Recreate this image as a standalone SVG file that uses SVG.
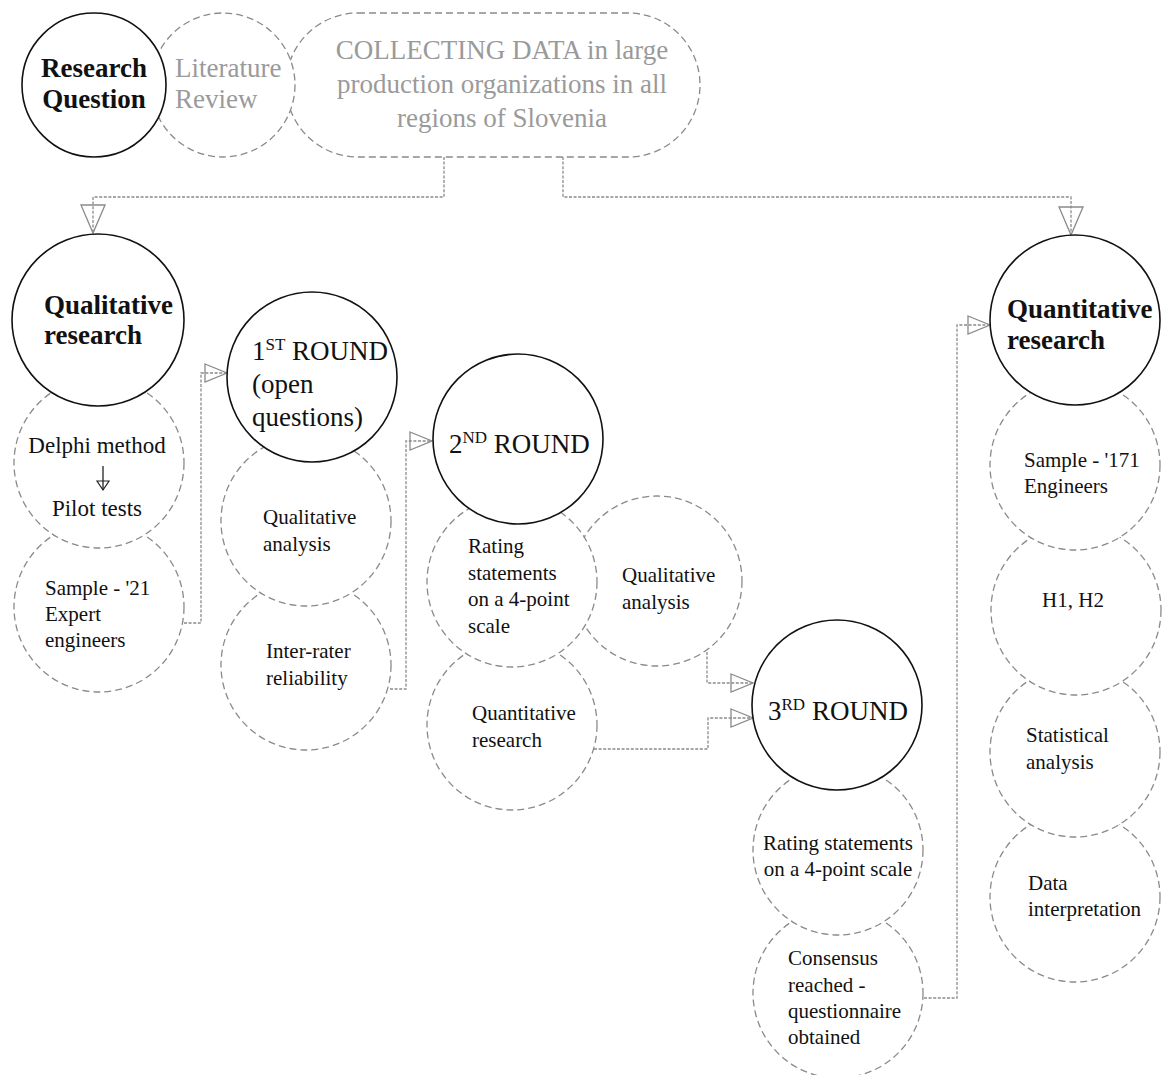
<svg xmlns="http://www.w3.org/2000/svg" width="1162" height="1075" viewBox="0 0 1162 1075">
<style>
  .solid{fill:#fff;stroke:#111;stroke-width:1.6}
  .dash{fill:#fff;stroke:#8a8a8a;stroke-width:1.3;stroke-dasharray:7 4}
  .conn{fill:none;stroke:#8a8a8a;stroke-width:1.3;stroke-dasharray:3 1.6}
  text{font-family:"Liberation Serif","Times New Roman",serif;fill:#111}
  .t27{font-size:27px}
  .b27{font-size:27px;font-weight:bold}
  .t21{font-size:21px}
  .t23{font-size:23px}
  .grey{fill:#9a9a9a}
  .sup{font-size:17px}
</style>
<defs>
  <marker id="arr" markerUnits="userSpaceOnUse" markerWidth="24" markerHeight="20" refX="22" refY="9" orient="auto" overflow="visible">
    <path d="M0,0 L22,9 L0,18 Z" fill="none" stroke="#8a8a8a" stroke-width="1.3"/>
  </marker>
  <marker id="arrv" markerUnits="userSpaceOnUse" markerWidth="30" markerHeight="26" refX="28" refY="12" orient="auto" overflow="visible">
    <path d="M0,0 L28,12 L0,24 Z" fill="none" stroke="#8a8a8a" stroke-width="1.3"/>
  </marker>
</defs>
<rect width="1162" height="1075" fill="#fff"/>

<!-- top row -->
<g id="collecting">
  <rect class="dash" x="286" y="13" width="414" height="144" rx="72" ry="72"/>
  <text class="t27 grey" text-anchor="middle" x="502" y="59">COLLECTING DATA in large</text>
  <text class="t27 grey" text-anchor="middle" x="502" y="93">production organizations in all</text>
  <text class="t27 grey" text-anchor="middle" x="502" y="127">regions of Slovenia</text>
</g>
<g id="literature">
  <circle class="dash" cx="223" cy="85" r="72"/>
  <text class="t27 grey" x="175" y="77">Literature</text>
  <text class="t27 grey" x="175" y="108">Review</text>
</g>
<g id="research-question">
  <circle class="solid" cx="94" cy="85" r="72"/>
  <text class="b27" text-anchor="middle" x="94" y="77">Research</text>
  <text class="b27" text-anchor="middle" x="94" y="108">Question</text>
</g>

<!-- connectors -->
<g id="connectors">
  <path class="conn" d="M444,157 V197 H93 V233" marker-end="url(#arrv)"/>
  <path class="conn" d="M563,157 V197 H1071 V235" marker-end="url(#arrv)"/>
  <path class="conn" d="M184,623 H201 V373 H227" marker-end="url(#arr)"/>
  <path class="conn" d="M390,689 H406 V441 H432" marker-end="url(#arr)"/>
  <path class="conn" d="M707,652 V683 H753" marker-end="url(#arr)"/>
  <path class="conn" d="M594,749 H708 V718 H753" marker-end="url(#arr)"/>
  <path class="conn" d="M924,998 H957 V325 H990" marker-end="url(#arr)"/>
</g>

<!-- qualitative column -->
<g id="sample-21">
  <circle class="dash" cx="99" cy="607" r="85"/>
  <text class="t21" x="45" y="595">Sample - '21</text>
  <text class="t21" x="45" y="621">Expert</text>
  <text class="t21" x="45" y="647">engineers</text>
</g>
<g id="delphi">
  <circle class="dash" cx="99" cy="463" r="85"/>
  <text class="t23" text-anchor="middle" x="97" y="453">Delphi method</text>
  <line x1="103" y1="466" x2="103" y2="490" stroke="#222" stroke-width="1.3"/>
  <path d="M97,481 L109,481 L103,490 Z" fill="none" stroke="#222" stroke-width="1.2"/>
  <text class="t23" text-anchor="middle" x="97" y="516">Pilot tests</text>
</g>
<g id="qualitative-research">
  <circle class="solid" cx="98" cy="320" r="86"/>
  <text class="b27" x="44" y="314">Qualitative</text>
  <text class="b27" x="44" y="344">research</text>
</g>

<!-- 1st round -->
<g id="inter-rater">
  <circle class="dash" cx="306" cy="665" r="85"/>
  <text class="t21" x="266" y="658">Inter-rater</text>
  <text class="t21" x="266" y="685">reliability</text>
</g>
<g id="qual-analysis-1">
  <circle class="dash" cx="306" cy="521" r="85"/>
  <text class="t21" x="263" y="524">Qualitative</text>
  <text class="t21" x="263" y="551">analysis</text>
</g>
<g id="round-1">
  <circle class="solid" cx="312" cy="377" r="85"/>
  <text class="t27" x="252" y="360">1<tspan class="sup" dy="-10">ST</tspan><tspan dy="10"> ROUND</tspan></text>
  <text class="t27" x="252" y="393">(open</text>
  <text class="t27" x="252" y="426">questions)</text>
</g>

<!-- 2nd round -->
<g id="quant-research-2">
  <circle class="dash" cx="512" cy="725" r="85"/>
  <text class="t21" x="472" y="720">Quantitative</text>
  <text class="t21" x="472" y="747">research</text>
</g>
<g id="qual-analysis-2">
  <circle class="dash" cx="657" cy="581" r="85"/>
  <text class="t21" x="622" y="582">Qualitative</text>
  <text class="t21" x="622" y="609">analysis</text>
</g>
<g id="rating-2">
  <circle class="dash" cx="512" cy="582" r="85"/>
  <text class="t21" x="468" y="553">Rating</text>
  <text class="t21" x="468" y="580">statements</text>
  <text class="t21" x="468" y="606">on a 4-point</text>
  <text class="t21" x="468" y="633">scale</text>
</g>
<g id="round-2">
  <circle class="solid" cx="518" cy="439" r="85"/>
  <text class="t27" x="449" y="453">2<tspan class="sup" dy="-10">ND</tspan><tspan dy="10"> ROUND</tspan></text>
</g>

<!-- 3rd round -->
<g id="consensus">
  <circle class="dash" cx="838" cy="993" r="85"/>
  <text class="t21" x="788" y="965">Consensus</text>
  <text class="t21" x="788" y="992">reached -</text>
  <text class="t21" x="788" y="1018">questionnaire</text>
  <text class="t21" x="788" y="1044">obtained</text>
</g>
<g id="rating-3">
  <circle class="dash" cx="838" cy="850" r="85"/>
  <text class="t21" text-anchor="middle" x="838" y="850">Rating statements</text>
  <text class="t21" text-anchor="middle" x="838" y="876">on a 4-point scale</text>
</g>
<g id="round-3">
  <circle class="solid" cx="837" cy="705" r="85"/>
  <text class="t27" x="768" y="720">3<tspan class="sup" dy="-10">RD</tspan><tspan dy="10"> ROUND</tspan></text>
</g>

<!-- quantitative column -->
<g id="data-interpretation">
  <circle class="dash" cx="1075" cy="897" r="85"/>
  <text class="t21" x="1028" y="890">Data</text>
  <text class="t21" x="1028" y="916">interpretation</text>
</g>
<g id="statistical-analysis">
  <circle class="dash" cx="1075" cy="752" r="85"/>
  <text class="t21" x="1026" y="742">Statistical</text>
  <text class="t21" x="1026" y="769">analysis</text>
</g>
<g id="h1-h2">
  <circle class="dash" cx="1076" cy="610" r="85"/>
  <text class="t21" text-anchor="middle" x="1073" y="607">H1, H2</text>
</g>
<g id="sample-171">
  <circle class="dash" cx="1075" cy="465" r="85"/>
  <text class="t21" x="1024" y="467">Sample - '171</text>
  <text class="t21" x="1024" y="493">Engineers</text>
</g>
<g id="quantitative-research">
  <circle class="solid" cx="1075" cy="320" r="85"/>
  <text class="b27" x="1007" y="318">Quantitative</text>
  <text class="b27" x="1007" y="349">research</text>
</g>
</svg>
